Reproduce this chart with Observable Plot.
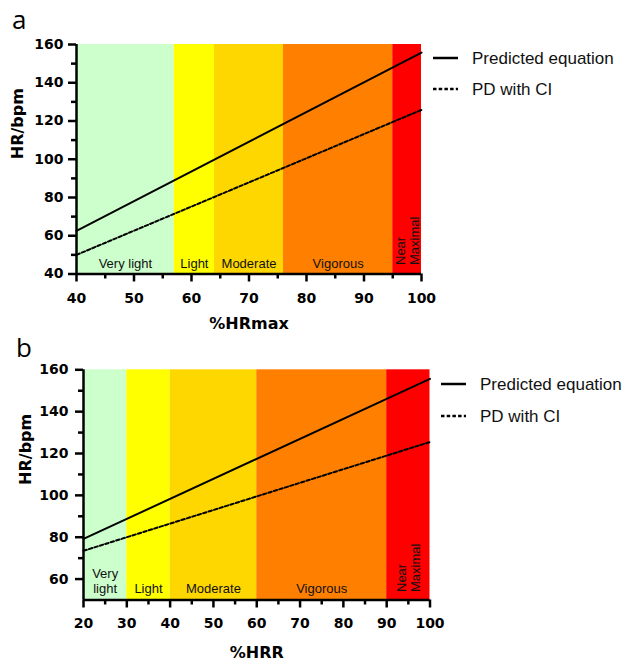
<!DOCTYPE html>
<html><head><meta charset="utf-8">
<script src="https://cdn.jsdelivr.net/npm/d3@7"></script>
<script src="https://cdn.jsdelivr.net/npm/@observablehq/plot@0.6"></script>
<style>
body{margin:0;background:#fff;}
#wrap{position:relative;width:627px;height:661px;overflow:hidden;font-family:"Liberation Sans",Arial,sans-serif;}
.panel{position:absolute;left:0;}
.panel svg{overflow:visible;}
.legend{position:absolute;left:0;top:0;overflow:visible;}
</style></head><body><div id="wrap"></div>
<script>
// ---- shared ----
const seriesNames = ["Predicted equation", "PD with CI"];
const zoneColors = ["#ccffcc", "#ffff00", "#ffd700", "#ff8000", "#ff0000"];

// ---- panel a (%HRmax) ----
const xA = [40, 100];
const predictedA = [62.5, 155.8];
const pdA = [50, 125.8];
const zoneNamesA = ["Very light", "Light", "Moderate", "Vigorous", "Near\nMaximal"];
const zoneBoundsA = [40, 57, 64, 76, 95, 100];
const xTicksA = [40, 50, 60, 70, 80, 90, 100];
const xMinorA = [45, 55, 65, 75, 85, 95];
const yTicksA = [40, 60, 80, 100, 120, 140, 160];
const yMinorA = [50, 70, 90, 110, 130, 150];

// ---- panel b (%HRR) ----
const xB = [20, 100];
const predictedB = [79.2, 155.7];
const pdB = [73.5, 125.5];
const zoneNamesB = ["Very\nlight", "Light", "Moderate", "Vigorous", "Near\nMaximal"];
const zoneBoundsB = [20, 30, 40, 60, 90, 100];
const xTicksB = [20, 30, 40, 50, 60, 70, 80, 90, 100];
const xMinorB = [25, 35, 45, 55, 65, 75, 85, 95];
const yTicksB = [60, 80, 100, 120, 140, 160];
const yMinorB = [70, 90, 110, 130, 150];

const wrap = document.getElementById("wrap");
const boldFont = "DejaVu Sans";
const dash = "3.5,2.2";

function makePanel(cfg) {
  const zones = cfg.zoneNames.map((name, i) => ({
    name, x1: cfg.zoneBounds[i], x2: cfg.zoneBounds[i + 1], color: zoneColors[i]
  }));
  const pred = cfg.x.map((x, i) => ({x, y: cfg.pred[i]}));
  const pd = cfg.x.map((x, i) => ({x, y: cfg.pd[i]}));
  const y0 = cfg.yDomain[0], y1 = cfg.yDomain[1];
  const tickText = {fontSize: 14, fontWeight: "bold", fontFamily: boldFont, fill: "#000"};
  const plot = Plot.plot({
    width: 627,
    height: cfg.height,
    marginLeft: cfg.ml, marginRight: cfg.mr, marginTop: cfg.mt, marginBottom: cfg.mb,
    style: {fontFamily: "Liberation Sans, Arial, sans-serif", color: "#000", background: "transparent", overflow: "visible"},
    x: {domain: cfg.xDomain},
    y: {domain: cfg.yDomain},
    marks: [
      Plot.rect(zones, {x1: "x1", x2: "x2", y1: () => y0, y2: () => y1, fill: "color"}),
      Plot.text(zones.slice(0, 4), {
        x: d => (d.x1 + d.x2) / 2, y: () => y0, text: "name",
        lineAnchor: "bottom", dy: cfg.zoneDy, fontSize: 13, lineHeight: 1.12, fill: "#111"
      }),
      Plot.text(zones.slice(4), {
        x: d => (d.x1 + d.x2) / 2, y: () => y0, text: "name", rotate: -90,
        textAnchor: "start", lineAnchor: "middle", dy: cfg.nearDy, fontSize: 13, lineHeight: 1.08, fill: "#111"
      }),
      Plot.line(pred, {x: "x", y: "y", stroke: "#000", strokeWidth: 2}),
      Plot.line(pd, {x: "x", y: "y", stroke: "#000", strokeWidth: 2, strokeDasharray: dash}),
      Plot.ruleX([cfg.xDomain[0]], {stroke: "#000", strokeWidth: 2.5}),
      Plot.ruleY([y0], {stroke: "#000", strokeWidth: 2.5}),
      Plot.axisX(cfg.xTicks, {tickSize: 8, tickPadding: cfg.xPad, strokeWidth: 2.5, label: null, ...tickText}),
      Plot.axisX(cfg.xMinor, {tickSize: 5, strokeWidth: 2.5, label: null, tickFormat: () => ""}),
      Plot.axisY(cfg.yTicks, {tickSize: 8, tickPadding: cfg.yPad, strokeWidth: 2.5, label: null, ...tickText}),
      Plot.axisY(cfg.yMinor, {tickSize: 5, strokeWidth: 2.5, label: null, tickFormat: () => ""}),
      Plot.text([cfg.xLabel], {frameAnchor: "bottom", dy: cfg.xLabelDy, lineAnchor: "bottom",
        fontSize: 16, fontWeight: "bold", fontFamily: boldFont, fill: "#000"}),
      Plot.text([cfg.yLabel], {frameAnchor: "left", dx: cfg.yLabelDx, rotate: -90, lineAnchor: "middle",
        fontSize: 16, fontWeight: "bold", fontFamily: boldFont, fill: "#000"})
    ]
  });
  const div = document.createElement("div");
  div.className = "panel";
  div.style.top = cfg.top + "px";
  div.appendChild(plot);
  wrap.appendChild(div);

  // overlay: panel letter + legend
  const svg = d3.select(wrap).append("svg").attr("class", "legend")
    .attr("width", 627).attr("height", 661);
  svg.append("text").attr("x", cfg.letterX).attr("y", cfg.letterY)
    .attr("font-family", "Open Sans, Noto Sans, sans-serif").attr("font-size", 26)
    .attr("fill", "#000").text(cfg.letter);
  seriesNames.forEach((name, i) => {
    const y = cfg.legendY[i];
    svg.append("line").attr("x1", cfg.legendX).attr("x2", cfg.legendX + 25)
      .attr("y1", y).attr("y2", y).attr("stroke", "#000").attr("stroke-width", 2.5)
      .attr("stroke-dasharray", i === 1 ? dash : null);
    svg.append("text").attr("x", cfg.legendX + 39).attr("y", y + 6)
      .attr("font-family", "Liberation Sans, Arial, sans-serif").attr("font-size", 17)
      .attr("fill", "#111").text(name);
  });
}

makePanel({
  top: 0, height: 330, ml: 76, mr: 206, mt: 44, mb: 56.5,
  xDomain: [40, 100], yDomain: [40, 160],
  x: xA, pred: predictedA, pd: pdA,
  zoneNames: zoneNamesA, zoneBounds: zoneBoundsA,
  xTicks: xTicksA, xMinor: xMinorA, yTicks: yTicksA, yMinor: yMinorA,
  xPad: 11, yPad: 5, zoneDy: -6.5, nearDy: -9,
  xLabel: "%HRmax", yLabel: "HR/bpm", xLabelDy: 55, yLabelDx: -58.5,
  letter: "a", letterX: 12, letterY: 28.5,
  legendX: 433, legendY: [58, 89]
});

makePanel({
  top: 330, height: 331, ml: 83, mr: 197.5, mt: 39.3, mb: 61.5,
  xDomain: [20, 100], yDomain: [50, 160],
  x: xB, pred: predictedB, pd: pdB,
  zoneNames: zoneNamesB, zoneBounds: zoneBoundsB,
  xTicks: xTicksB, xMinor: xMinorB, yTicks: yTicksB, yMinor: yMinorB,
  xPad: 10.5, yPad: 7, zoneDy: -7, nearDy: -8,
  xLabel: "%HRR", yLabel: "HR/bpm", xLabelDy: 57.5, yLabelDx: -57.5,
  letter: "b", letterX: 16, letterY: 357,
  legendX: 441, legendY: [384, 416]
});
</script></body></html>
